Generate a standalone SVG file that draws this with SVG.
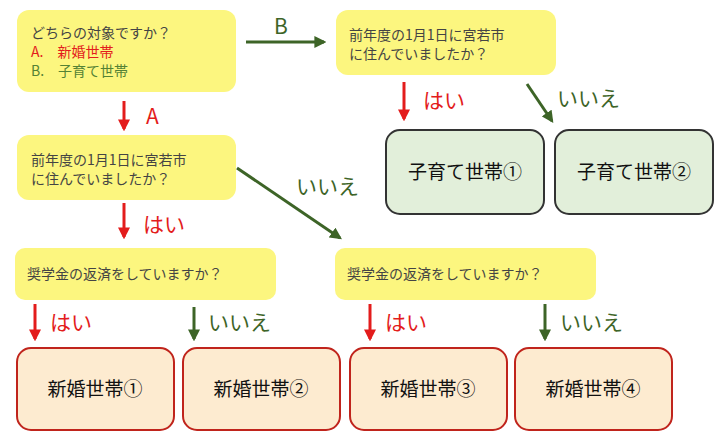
<svg xmlns="http://www.w3.org/2000/svg" width="722" height="446" viewBox="0 0 722 446">
<style>
text{font-family:"Noto Sans CJK JP","Liberation Sans",sans-serif}
.q{fill:#fcf67f}
.qt{font-size:14px;fill:#444}
.r{fill:#e31c1c}
.g{fill:#3d6427}
.lr{stroke:#e31c1c;stroke-width:3}
.lg{stroke:#3d6427;stroke-width:3}
.lab{font-size:21px}
.res{fill:#fdebd0;stroke:#c0241c;stroke-width:2}
.kid{fill:#e2efda;stroke:#333;stroke-width:2}
.rt{font-size:19px;fill:#111;text-anchor:middle}
</style>
<defs>
<marker id="ar" viewBox="0 0 10 10" refX="8" refY="5" markerWidth="4" markerHeight="4" orient="auto"><path d="M0,0L10,5L0,10z" fill="#e31c1c"/></marker>
<marker id="ag" viewBox="0 0 10 10" refX="8" refY="5" markerWidth="4" markerHeight="4" orient="auto"><path d="M0,0L10,5L0,10z" fill="#3d6427"/></marker>
</defs>
<g id="q1"><rect class="q" x="17" y="10" width="219" height="82" rx="12"/>
<text class="qt" x="31" y="38">どちらの対象ですか？</text>
<text class="qt" x="31" y="57" style="fill:#e31c1c">A.　新婚世帯</text>
<text class="qt" x="31" y="76" style="fill:#548235">B.　子育て世帯</text></g>
<g id="q2"><rect class="q" x="336" y="10" width="220" height="65" rx="12"/>
<text class="qt" x="349" y="40">前年度の1月1日に宮若市</text><text class="qt" x="349" y="59">に住んでいましたか？</text></g>
<g id="q3"><rect class="q" x="17" y="135" width="219" height="65" rx="12"/>
<text class="qt" x="31" y="165">前年度の1月1日に宮若市</text><text class="qt" x="31" y="184">に住んでいましたか？</text></g>
<g id="q4"><rect class="q" x="15" y="248" width="261" height="52" rx="10"/><text class="qt" x="27" y="279">奨学金の返済をしていますか？</text></g>
<g id="q5"><rect class="q" x="335" y="248" width="261" height="52" rx="10"/><text class="qt" x="347" y="279">奨学金の返済をしていますか？</text></g>
<g id="k1"><rect class="kid" x="386" y="130" width="158" height="84" rx="14"/><text class="rt" x="465" y="179">子育て世帯①</text></g>
<g id="k2"><rect class="kid" x="555" y="130" width="158" height="84" rx="14"/><text class="rt" x="634" y="179">子育て世帯②</text></g>
<g id="n1"><rect class="res" x="17" y="348" width="157" height="82" rx="14"/><text class="rt" x="95" y="396">新婚世帯①</text></g>
<g id="n2"><rect class="res" x="183" y="348" width="157" height="82" rx="14"/><text class="rt" x="261" y="396">新婚世帯②</text></g>
<g id="n3"><rect class="res" x="350" y="348" width="157" height="82" rx="14"/><text class="rt" x="428" y="396">新婚世帯③</text></g>
<g id="n4"><rect class="res" x="515" y="348" width="157" height="82" rx="14"/><text class="rt" x="593" y="396">新婚世帯④</text></g>
<g id="connectors">
<line class="lg" x1="246" y1="42" x2="324" y2="42" marker-end="url(#ag)"/><text class="lab g" x="274" y="34">B</text>
<line class="lr" x1="124" y1="101" x2="124" y2="129" marker-end="url(#ar)"/><text class="lab r" x="146" y="124">A</text>
<line class="lg" x1="237" y1="168" x2="340" y2="238" marker-end="url(#ag)"/><text class="lab g" x="296" y="194">いいえ</text>
<line class="lr" x1="124" y1="203" x2="124" y2="237" marker-end="url(#ar)"/><text class="lab r" x="143" y="232">はい</text>
<line class="lr" x1="404" y1="82" x2="404" y2="119" marker-end="url(#ar)"/><text class="lab r" x="423" y="108">はい</text>
<line class="lg" x1="527" y1="84" x2="552" y2="121" marker-end="url(#ag)"/><text class="lab g" x="557" y="106">いいえ</text>
<line class="lr" x1="35" y1="304" x2="35" y2="339" marker-end="url(#ar)"/><text class="lab r" x="50" y="330">はい</text>
<line class="lg" x1="194" y1="307" x2="194" y2="339" marker-end="url(#ag)"/><text class="lab g" x="208" y="330">いいえ</text>
<line class="lr" x1="370" y1="304" x2="370" y2="339" marker-end="url(#ar)"/><text class="lab r" x="385" y="330">はい</text>
<line class="lg" x1="545" y1="304" x2="545" y2="339" marker-end="url(#ag)"/><text class="lab g" x="560" y="330">いいえ</text>
</g>
</svg>
